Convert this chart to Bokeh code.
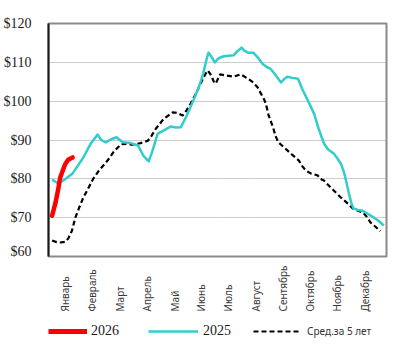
import math
from bokeh.plotting import figure
from bokeh.layouts import column
from bokeh.models import (Range1d, FixedTicker, PrintfTickFormatter,
                          Legend, LegendItem)
from bokeh.core.properties import value
from bokeh.embed import file_html
from bokeh.resources import INLINE

# ---- data (x = day of year) ----
months = ["Январь", "Февраль", "Март", "Апрель", "Май", "Июнь", "Июль",
          "Август", "Сентябрь", "Октябрь", "Ноябрь", "Декабрь"]
month_ticks = [15, 45, 76, 106, 137, 167, 197, 228, 258, 289, 319, 350]
y_ticks = [60, 70, 80, 90, 100, 110, 120]

days_2026 = [0, 4, 7, 9, 13, 15, 18, 23]
vals_2026 = [70.5, 74.0, 77.5, 80.3, 82.8, 83.9, 84.9, 85.5]

days_2025 = [0, 7, 14, 23, 35, 43, 51, 55, 60, 66, 72, 79, 88, 96, 102, 108, 112,
             118, 125, 133, 138, 144, 150, 158, 164, 169, 173, 175, 178, 182, 186,
             191, 197, 203, 207, 212, 215, 219, 225, 231, 235, 240, 244, 249, 256,
             260, 263, 269, 275, 280, 286, 293, 298, 304, 309, 315, 319, 323, 326,
             328, 332, 335, 337, 342, 347, 353, 360, 365, 371]
vals_2025 = [79.8, 78.8, 79.8, 81.4, 85.5, 89.0, 91.4, 90.0, 89.4, 90.2, 90.7, 89.4,
             89.2, 88.6, 86.0, 84.5, 87.0, 91.6, 92.5, 93.5, 93.2, 93.3, 96.0, 100.2,
             103.5, 107.1, 111.0, 112.5, 111.5, 110.0, 111.0, 111.5, 111.7, 111.8,
             112.8, 113.8, 113.0, 112.5, 112.5, 111.0, 109.7, 108.8, 108.4, 107.0,
             104.8, 105.8, 106.3, 106.0, 105.8, 103.0, 100.2, 96.8, 93.0, 89.1, 87.5,
             86.5, 85.3, 83.9, 82.0, 80.3, 76.2, 73.5, 72.4, 72.0, 71.8, 71.0, 70.0,
             69.2, 68.0]

days_avg = [0, 5, 9, 15, 18, 22, 26, 31, 35, 41, 46, 52, 62, 69, 77, 83, 90, 99,
            107, 111, 116, 125, 135, 140, 146, 150, 155, 161, 166, 171, 174, 177,
            181, 183, 186, 188, 195, 203, 207, 211, 219, 225, 230, 233, 237, 239,
            242, 247, 250, 253, 260, 267, 271, 276, 280, 284, 290, 297, 300, 304,
            308, 315, 323, 331, 336, 342, 348, 352, 356, 362, 367]
vals_avg = [64.1, 63.7, 63.6, 63.8, 64.6, 66.5, 70.0, 73.0, 75.2, 77.8, 80.0, 82.0,
            84.7, 87.0, 88.9, 89.0, 88.8, 89.2, 89.8, 91.0, 92.9, 95.5, 97.1, 97.0,
            96.3, 97.5, 99.4, 102.0, 104.5, 106.8, 107.9, 107.0, 105.0, 104.5, 106.0,
            106.9, 106.6, 106.3, 106.6, 106.9, 105.8, 104.8, 103.5, 102.2, 100.5,
            99.4, 96.5, 93.3, 91.0, 89.4, 88.0, 86.5, 85.7, 84.7, 83.2, 82.1, 81.3,
            80.9, 80.0, 79.6, 78.6, 77.0, 75.2, 73.6, 72.4, 71.8, 71.3, 70.2, 68.8,
            67.6, 66.5]

label_2026 = "2026"
label_2025 = "2025"
label_avg = "Сред.за 5 лет"

W = 413
BL, BR, BT = 48, 27, 23
X0, X1 = -4, 374

RED = dict(line_color="#FF0000", line_width=4.5, line_join="round", line_cap="round")
TEAL = dict(line_color="#33CCCC", line_width=2.5, line_join="round")
AVG = dict(line_color="black", line_width=2.2, line_dash="5 3")

# ---- main chart ----
p = figure(width=W, height=258, x_range=Range1d(X0, X1), y_range=Range1d(60, 120),
           output_backend="svg", toolbar_location=None,
           min_border_left=BL, min_border_right=BR, min_border_top=BT,
           min_border_bottom=2)
p.background_fill_color = "white"
p.border_fill_color = "white"
p.outline_line_color = "#8a8a8a"
p.outline_line_width = 2

p.xaxis.visible = False
p.xgrid.visible = False

p.yaxis.ticker = FixedTicker(ticks=y_ticks)
p.yaxis.formatter = PrintfTickFormatter(format="$%d")
p.yaxis.axis_line_color = "#1a1a1a"
p.yaxis.axis_line_width = 2
p.yaxis.major_tick_line_color = None
p.yaxis.minor_tick_line_color = None
p.yaxis.major_label_standoff = 11
p.yaxis.major_label_text_font = "Liberation Serif"
p.yaxis.major_label_text_font_size = "14px"
p.yaxis.major_label_text_color = "#1a1a1a"

p.ygrid.ticker = FixedTicker(ticks=y_ticks)
p.ygrid.grid_line_color = "#9a9a9a"
p.ygrid.grid_line_dash = "1 1"
p.ygrid.grid_line_width = 1

p.line(days_avg, vals_avg, **AVG)
p.line(days_2025, vals_2025, **TEAL)
p.line(days_2026, vals_2026, **RED)

# ---- lower panel: month labels + legend (frame aligned with the chart) ----
p2 = figure(width=W, height=95, x_range=p.x_range, y_range=Range1d(-95, 0),
            output_backend="svg", toolbar_location=None,
            min_border_left=BL, min_border_right=BR, min_border_top=0,
            min_border_bottom=0)
p2.axis.visible = False
p2.grid.visible = False
p2.outline_line_color = None
p2.background_fill_color = "white"
p2.border_fill_color = "white"

p2.text(x=month_ticks, y=[-53] * len(months), text=months, angle=math.pi / 2,
        text_align="left", text_baseline="middle",
        text_font=value("Noto Sans"), text_font_size="10px", text_color="#3a3a3a")

# the same series in the lower panel (outside its visible range) feed the legend
g26 = p2.line(days_2026, vals_2026, **dict(RED, line_width=5, line_cap="butt"))
g25 = p2.line(days_2025, vals_2025, **TEAL)
gav = p2.line(days_avg, vals_avg, **AVG)

def mk_legend(renderer, text, loc, font, size, color, gw, standoff):
    lg = Legend(items=[LegendItem(label=text, renderers=[renderer])],
                location=loc, orientation="horizontal",
                glyph_width=gw, glyph_height=20, label_standoff=standoff,
                padding=0, margin=0, spacing=0,
                background_fill_alpha=0, border_line_color=None,
                label_text_font=font, label_text_font_size=size,
                label_text_color=color, label_height=20)
    p2.add_layout(lg)

mk_legend(g26, label_2026, (0, 12), "Liberation Serif", "14px", "#1a1a1a", 39, 4)
mk_legend(g25, label_2025, (100, 12), "Liberation Serif", "14px", "#1a1a1a", 50, 5)
mk_legend(gav, label_avg, (205, 12), "Noto Sans", "10px", "#333333", 47, 7)

layout = column(p, p2, spacing=0)
open("out.html", "w").write(file_html(layout, INLINE))
